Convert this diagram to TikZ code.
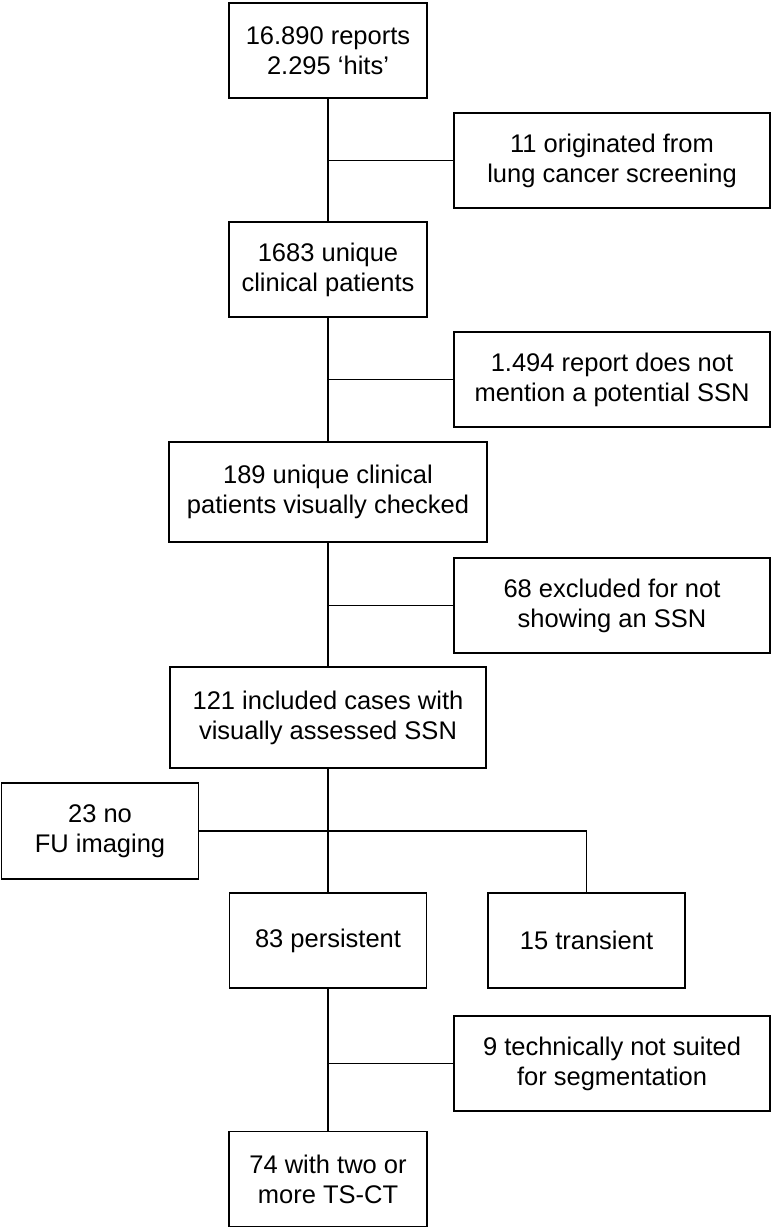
\documentclass[tikz,border=0pt]{standalone}
\usepackage{fontspec}
\setmainfont{Liberation Sans}
\begin{document}
\begin{tikzpicture}[x=1pt,y=-1pt,
  box/.style={draw, line width=1.8pt, align=center, inner sep=0pt, font=\fontsize{25.5}{30}\selectfont},
  link/.style={line width=1.8pt}]
\useasboundingbox (0,0) rectangle (773,1228);
\node[box, minimum width=198pt, minimum height=95pt] (b1) at (328,50.5) {16.890 reports\\2.295 ‘hits’};
\node[box, minimum width=316pt, minimum height=95pt] (b2) at (612,160.5) {11 originated from\\lung cancer screening};
\node[box, minimum width=198pt, minimum height=95pt] (b3) at (328,269.5) {1683 unique\\clinical patients};
\node[box, minimum width=316pt, minimum height=95pt] (b4) at (612,379.5) {1.494 report does not\\mention a potential SSN};
\node[box, minimum width=318pt, minimum height=100pt] (b5) at (328,492) {189 unique clinical\\patients visually checked};
\node[box, minimum width=316pt, minimum height=95pt] (b6) at (612,605.5) {68 excluded for not\\showing an SSN};
\node[box, minimum width=316pt, minimum height=101pt] (b7) at (328,717.5) {121 included cases with\\visually assessed SSN};
\node[box, minimum width=197pt, minimum height=96pt] (b8) at (100,831) {23 no\\FU imaging};
\node[box, minimum width=197pt, minimum height=95pt] (b9) at (328,940.5) {83 persistent};
\node[box, minimum width=197pt, minimum height=95pt] (b10) at (586.5,940.5) {15 transient};
\node[box, minimum width=316pt, minimum height=95pt] (b11) at (612,1063.5) {9 technically not suited\\for segmentation};
\node[box, minimum width=198pt, minimum height=95pt] (b12) at (328,1179) {74 with two or\\more TS-CT};
\draw[link] (b1.south) -- (b3.north);
\draw[link] (b3.south) -- (b5.north);
\draw[link] (b5.south) -- (b7.north);
\draw[link] (b7.south) -- (b9.north);
\draw[link] (b9.south) -- (b12.north);
\draw[link] (b1.south |- b2.west) -- (b2.west);
\draw[link] (b3.south |- b4.west) -- (b4.west);
\draw[link] (b5.south |- b6.west) -- (b6.west);
\draw[link] (b9.south |- b11.west) -- (b11.west);
\draw[link] (b8.east) -- (b8.east -| b10.north) -- (b10.north);
\end{tikzpicture}
\end{document}
